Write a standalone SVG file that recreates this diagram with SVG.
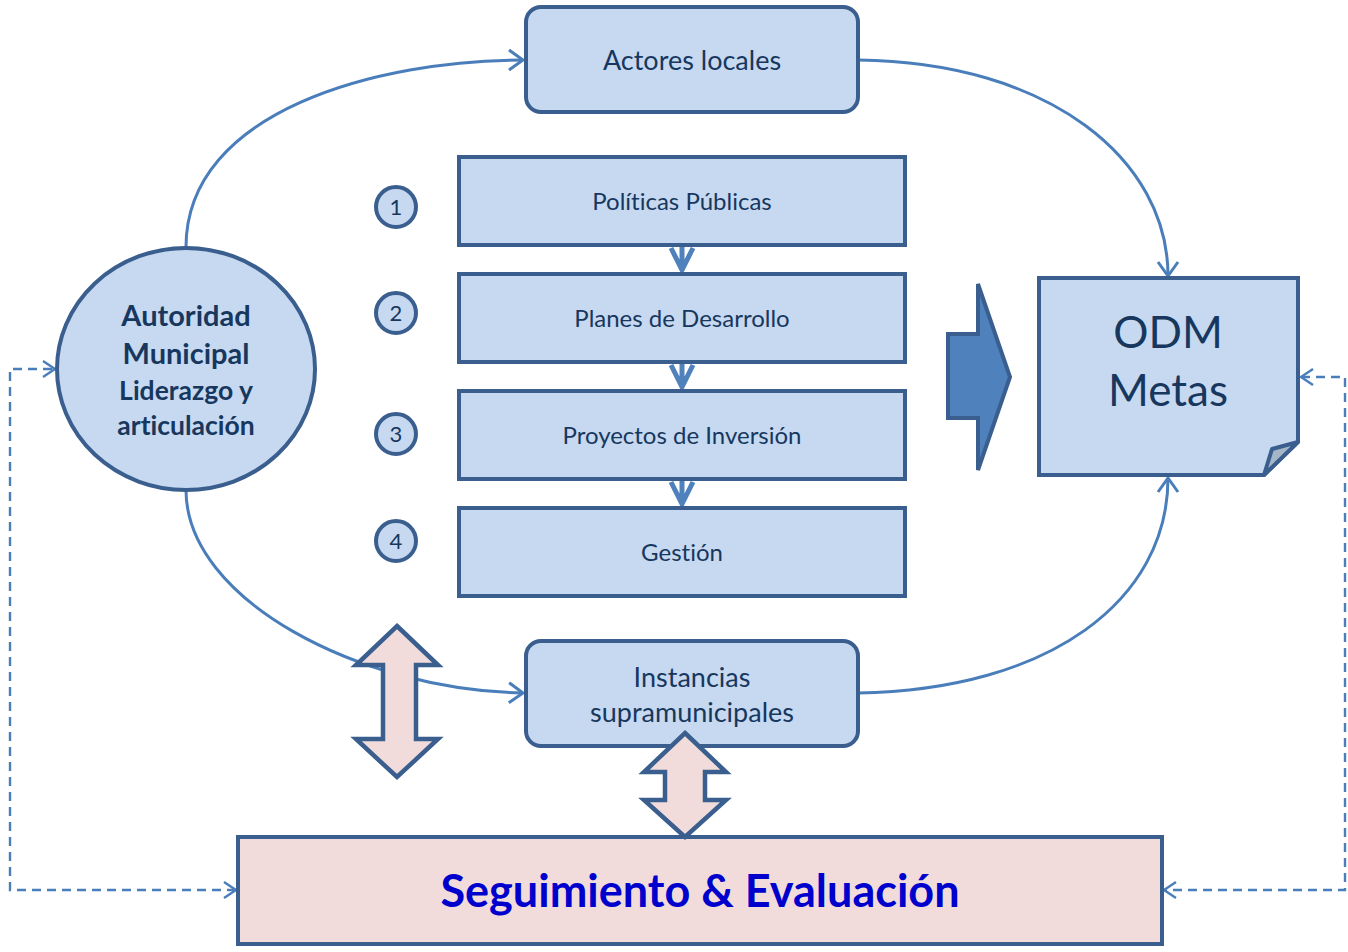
<svg xmlns="http://www.w3.org/2000/svg" width="1348" height="952" viewBox="0 0 1348 952">
<defs>
<style>
.box{fill:#c6d9f0;stroke:#3a5f8f;stroke-width:4}
.pink{fill:#f2dcdb;stroke:#3a5f8f;stroke-width:4.5;stroke-linejoin:miter}
.t{font-family:Lato,"Open Sans","Liberation Sans",sans-serif;fill:#17375e;text-anchor:middle;font-variant-ligatures:none}
.conn{fill:none;stroke:#4a7ebb;stroke-width:3}
.dash{fill:none;stroke:#4a7ebb;stroke-width:2.4;stroke-dasharray:9,6}
.chev{fill:none;stroke:#4f81bd;stroke-width:5}
</style>
<marker id="ah" markerUnits="userSpaceOnUse" markerWidth="30" markerHeight="30" refX="20" refY="15" orient="auto">
<path d="M6,5 L20,15 L6,25" fill="none" stroke="#4a7ebb" stroke-width="3"/>
</marker>
<marker id="ahs" markerUnits="userSpaceOnUse" markerWidth="30" markerHeight="30" refX="20" refY="15" orient="auto-start-reverse">
<path d="M8,7 L20,15 L8,23" fill="none" stroke="#4a7ebb" stroke-width="2.4"/>
</marker>
</defs>
<rect width="1348" height="952" fill="#ffffff"/>

<g id="connectors">
<path class="conn" d="M186,247 C186,110 380,60 523,60" marker-end="url(#ah)"/>
<path class="conn" d="M858,60 C1050,62 1168,160 1168,276" marker-end="url(#ah)"/>
<path class="conn" d="M186,490 C186,600 360,690 523,693" marker-end="url(#ah)"/>
<path class="conn" d="M858,693 C1050,690 1168,600 1168,478" marker-end="url(#ah)"/>
<path class="dash" d="M236,890 L10,890 L10,369 L55,369" marker-start="url(#ahs)" marker-end="url(#ahs)"/>
<path class="dash" d="M1301,377 L1345,377 L1345,890 L1164,890" marker-start="url(#ahs)" marker-end="url(#ahs)"/>
<path class="chev" d="M682,246 L682,270 M671,248 L682,270 L693,248"/>
<path class="chev" d="M682,363 L682,387 M671,365 L682,387 L693,365"/>
<path class="chev" d="M682,480 L682,504 M671,482 L682,504 L693,482"/>
</g>

<g id="actores">
<rect class="box" x="526" y="7" width="332" height="105" rx="15"/>
<text class="t" x="692" y="70" font-size="27">Actores locales</text>
</g>

<g id="autoridad">
<ellipse class="box" cx="186" cy="369" rx="129" ry="121"/>
<text class="t" x="186" y="326" font-size="29" font-weight="bold">Autoridad</text>
<text class="t" x="186" y="364" font-size="29" font-weight="bold">Municipal</text>
<text class="t" x="186" y="400" font-size="26.5" font-weight="bold">Liderazgo y</text>
<text class="t" x="186" y="435" font-size="26.5" font-weight="bold">articulación</text>
</g>

<g id="politicas">
<rect class="box" x="459" y="157" width="446" height="88"/>
<text class="t" x="682" y="210" font-size="24">Políticas Públicas</text>
</g>
<g id="planes">
<rect class="box" x="459" y="274" width="446" height="88"/>
<text class="t" x="682" y="327" font-size="24">Planes de Desarrollo</text>
</g>
<g id="proyectos">
<rect class="box" x="459" y="391" width="446" height="88"/>
<text class="t" x="682" y="444" font-size="24">Proyectos de Inversión</text>
</g>
<g id="gestion">
<rect class="box" x="459" y="508" width="446" height="88"/>
<text class="t" x="682" y="561" font-size="24">Gestión</text>
</g>

<g id="n1"><circle class="box" cx="396" cy="207" r="20"/><text class="t" x="396" y="215" font-size="22">1</text></g>
<g id="n2"><circle class="box" cx="396" cy="313" r="20"/><text class="t" x="396" y="321" font-size="22">2</text></g>
<g id="n3"><circle class="box" cx="396" cy="434" r="20"/><text class="t" x="396" y="442" font-size="22">3</text></g>
<g id="n4"><circle class="box" cx="396" cy="541" r="20"/><text class="t" x="396" y="549" font-size="22">4</text></g>

<g id="bigarrow">
<polygon points="948,334 978,334 978,284 1010,377 978,470 978,418 948,418" fill="#4f81bd" stroke="#3a5f8f" stroke-width="4"/>
</g>

<g id="odm">
<path class="box" d="M1039,278 L1298,278 L1298,442 L1264,475 L1039,475 Z"/>
<path d="M1298,442 L1272,449 L1264,475 Z" fill="#a6b6c9" stroke="#3a5f8f" stroke-width="4" stroke-linejoin="round"/>
<text class="t" x="1168" y="348" font-size="44">ODM</text>
<text class="t" x="1168" y="406" font-size="44">Metas</text>
</g>

<g id="instancias">
<rect class="box" x="526" y="641" width="332" height="105" rx="15"/>
<text class="t" x="692" y="687" font-size="27">Instancias</text>
<text class="t" x="692" y="722" font-size="27">supramunicipales</text>
</g>

<g id="dbl-left">
<polygon class="pink" points="397,626 438,665 416,665 416,739 438,739 397,777 356,739 383,739 383,665 356,665"/>
</g>

<g id="seguimiento">
<rect x="238" y="837" width="924" height="107" fill="#f2dcdb" stroke="#3a5f8f" stroke-width="4"/>
<text x="700" y="907" font-family="Lato,'Open Sans','Liberation Sans',sans-serif" font-size="45" font-weight="bold" fill="#0000cc" text-anchor="middle">Seguimiento &amp; Evaluación</text>
</g>

<g id="dbl-right">
<polygon class="pink" points="685,733 726,772 705,772 705,800 726,800 685,837 644,800 665,800 665,772 644,772"/>
</g>
</svg>
